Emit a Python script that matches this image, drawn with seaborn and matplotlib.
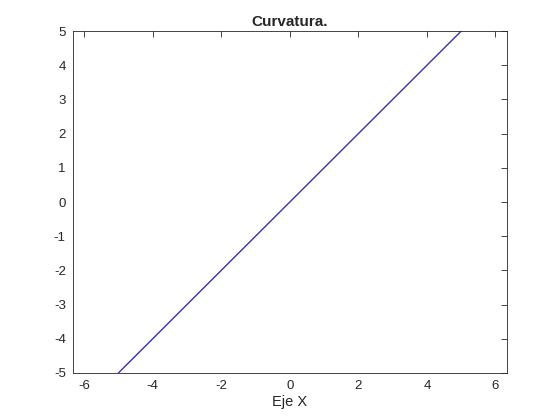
import numpy as np
import pandas as pd
import matplotlib
matplotlib.use('Agg')
import matplotlib.pyplot as plt
import seaborn as sns

# DATA
x_vals = [-5, 5]
y_vals = [-5, 5]
x_ticks = [-6, -4, -2, 0, 2, 4, 6]
y_ticks = [-5, -4, -3, -2, -1, 0, 1, 2, 3, 4, 5]

sns.set_style('white')
plt.rcParams['font.family'] = ['Liberation Sans', 'DejaVu Sans']
plt.rcParams['axes.unicode_minus'] = False

df = pd.DataFrame({'x': x_vals, 'y': y_vals})

fig = plt.figure(figsize=(5.6, 4.2), dpi=100)
ax = fig.add_axes([0.13, 0.112, 0.775, 0.814])

sns.lineplot(data=df, x='x', y='y', ax=ax, color='#3434a8', linewidth=1.0)

ax.set_xlim(-6.33, 6.33)
ax.set_ylim(-5, 5)
ax.set_xticks(x_ticks)
ax.set_yticks(y_ticks)
ax.tick_params(direction='in', length=4, width=0.6, labelsize=9.5,
               top=True, right=True, colors='#262626', pad=5)
for s in ax.spines.values():
    s.set_visible(True)
    s.set_color('#262626')
    s.set_linewidth(0.6)

ax.set_title('Curvatura.', fontsize=11, fontweight='bold', pad=4)
ax.set_xlabel('Eje X', fontsize=10.5, labelpad=2)
ax.set_ylabel('')

fig.savefig('out.png', dpi=100)
